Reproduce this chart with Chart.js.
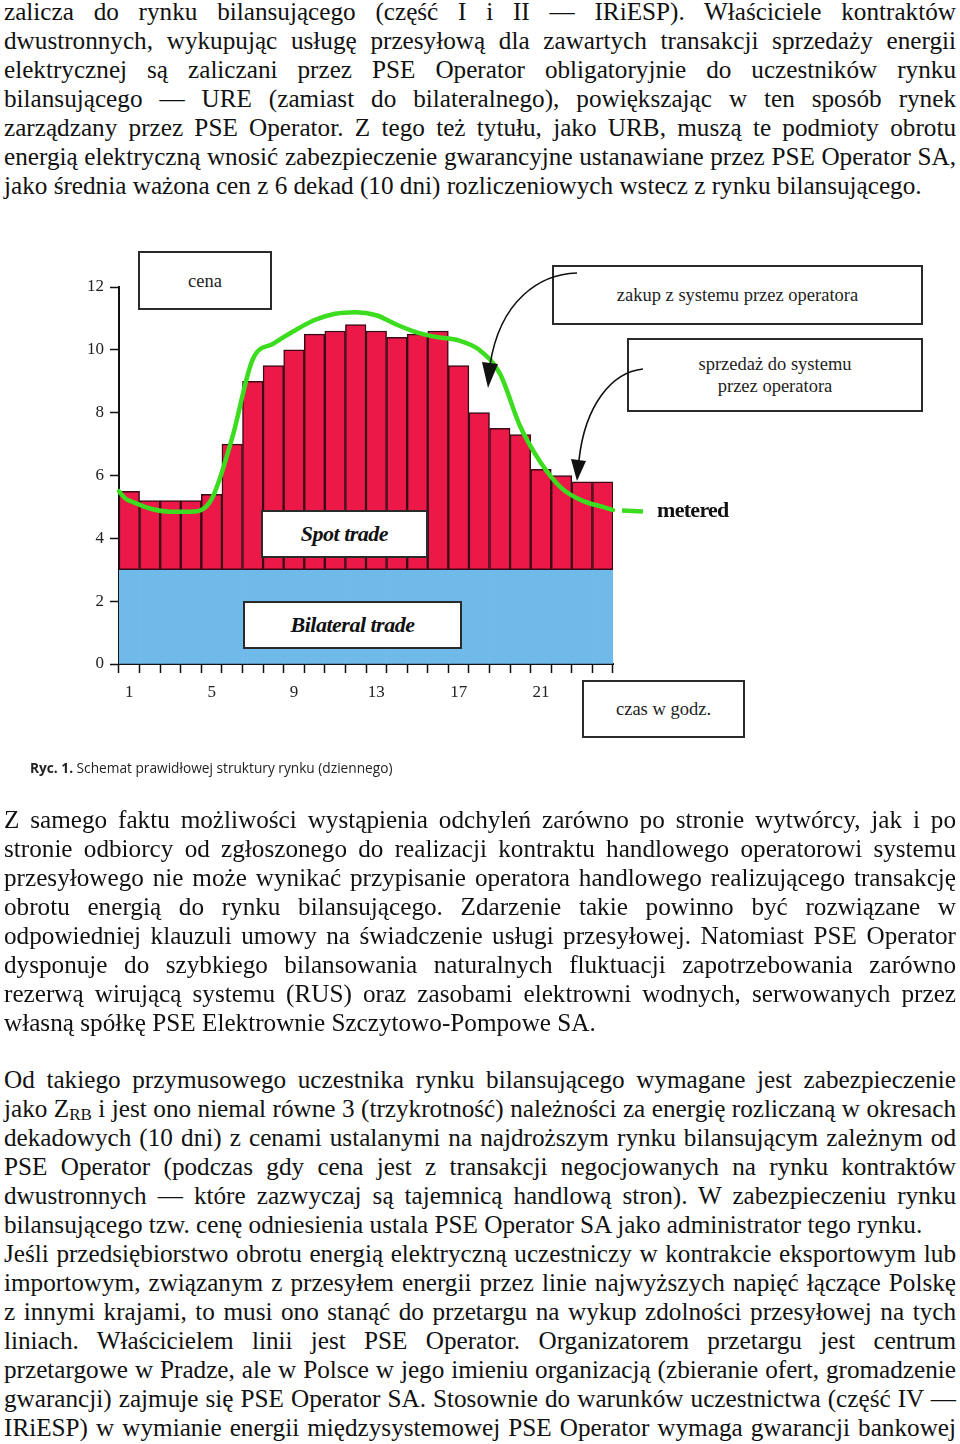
<!DOCTYPE html>
<html lang="pl">
<head>
<meta charset="utf-8">
<title>Schemat struktury rynku</title>
<script src="https://cdn.jsdelivr.net/npm/chart.js@4.4.1/dist/chart.umd.min.js"></script>
<style>
  body { margin: 0; background: #fff; }
  #page { position: relative; width: 960px; height: 1444px; overflow: hidden;
          font-family: "Liberation Serif", "Times New Roman", serif; color: #111; }
  .para { position: absolute; left: 4px; width: 952px; font-size: 25.2px; line-height: 29px; }
  .para div { height: 29px; text-align: justify; text-align-last: justify; }
  .para div.last { text-align-last: left; }
  .para sub { font-size: 17px; vertical-align: -3px; line-height: 0; }
  #chart { position: absolute; left: 0; top: 201px; }
  .box { position: absolute; box-sizing: border-box; border: 2px solid #2a2a2a; background: #fff;
         display: flex; align-items: center; justify-content: center; text-align: center;
         font-size: 18.5px; line-height: 22px; color: #222; z-index: 2; }
  .trade { font-weight: bold; font-style: italic; font-size: 22px; letter-spacing: -0.5px; color: #111; }
  #metered { position: absolute; left: 657px; top: 497px; font-weight: bold; font-size: 22px;
             letter-spacing: -0.7px; color: #111; z-index: 2; }
  #caption { position: absolute; left: 30px; top: 758px; font-family: "Open Sans", sans-serif;
             font-size: 13.7px; color: #222; }
  #arrows { position: absolute; left: 0; top: 0; z-index: 3; }
</style>
</head>
<body>
<div id="page">

  <div class="para" style="top:-3px">
    <div>zalicza do rynku bilansującego (część I i II — IRiESP). Właściciele kontraktów</div>
    <div>dwustronnych, wykupując usługę przesyłową dla zawartych transakcji sprzedaży energii</div>
    <div>elektrycznej są zaliczani przez PSE Operator obligatoryjnie do uczestników rynku</div>
    <div>bilansującego — URE (zamiast do bilateralnego), powiększając w ten sposób rynek</div>
    <div>zarządzany przez PSE Operator. Z tego też tytułu, jako URB, muszą te podmioty obrotu</div>
    <div>energią elektryczną wnosić zabezpieczenie gwarancyjne ustanawiane przez PSE Operator SA,</div>
    <div class="last">jako średnia ważona cen z 6 dekad (10 dni) rozliczeniowych wstecz z rynku bilansującego.</div>
  </div>

  <canvas id="chart" width="960" height="605"></canvas>

  <div class="box" style="left:138px; top:251px; width:134px; height:59px">cena</div>
  <div class="box" style="left:552px; top:265px; width:371px; height:60px">zakup z systemu przez operatora</div>
  <div class="box" style="left:627px; top:338px; width:296px; height:74px">sprzedaż do systemu<br>przez operatora</div>
  <div class="box trade" style="left:261px; top:510px; width:167px; height:48px">Spot trade</div>
  <div class="box trade" style="left:243px; top:601px; width:219px; height:48px">Bilateral trade</div>
  <div class="box" style="left:582px; top:680px; width:163px; height:58px">czas w godz.</div>
  <div id="metered">metered</div>

  <svg id="arrows" width="960" height="800">
    <path d="M577,273 C540,274 500,300 490,365" fill="none" stroke="#111" stroke-width="1.6"/>
    <polygon points="482,362 498,364 488,388" fill="#111"/>
    <path d="M643,369 C612,372 585,405 579,460" fill="none" stroke="#111" stroke-width="1.6"/>
    <polygon points="571,459 586,461 577,481" fill="#111"/>
  </svg>

  <div id="caption"><b>Ryc. 1.</b> Schemat prawidłowej struktury rynku (dziennego)</div>

  <div class="para" style="top:805px">
    <div>Z samego faktu możliwości wystąpienia odchyleń zarówno po stronie wytwórcy, jak i po</div>
    <div>stronie odbiorcy od zgłoszonego do realizacji kontraktu handlowego operatorowi systemu</div>
    <div>przesyłowego nie może wynikać przypisanie operatora handlowego realizującego transakcję</div>
    <div>obrotu energią do rynku bilansującego. Zdarzenie takie powinno być rozwiązane w</div>
    <div>odpowiedniej klauzuli umowy na świadczenie usługi przesyłowej. Natomiast PSE Operator</div>
    <div>dysponuje do szybkiego bilansowania naturalnych fluktuacji zapotrzebowania zarówno</div>
    <div>rezerwą wirującą systemu (RUS) oraz zasobami elektrowni wodnych, serwowanych przez</div>
    <div class="last">własną spółkę PSE Elektrownie Szczytowo-Pompowe SA.</div>
  </div>

  <div class="para" style="top:1065px">
    <div>Od takiego przymusowego uczestnika rynku bilansującego wymagane jest zabezpieczenie</div>
    <div>jako Z<sub>RB</sub> i jest ono niemal równe 3 (trzykrotność) należności za energię rozliczaną w okresach</div>
    <div>dekadowych (10 dni) z cenami ustalanymi na najdroższym rynku bilansującym zależnym od</div>
    <div>PSE Operator (podczas gdy cena jest z transakcji negocjowanych na rynku kontraktów</div>
    <div>dwustronnych — które zazwyczaj są tajemnicą handlową stron). W zabezpieczeniu rynku</div>
    <div class="last">bilansującego tzw. cenę odniesienia ustala PSE Operator SA jako administrator tego rynku.</div>
    <div>Jeśli przedsiębiorstwo obrotu energią elektryczną uczestniczy w kontrakcie eksportowym lub</div>
    <div>importowym, związanym z przesyłem energii przez linie najwyższych napięć łączące Polskę</div>
    <div>z innymi krajami, to musi ono stanąć do przetargu na wykup zdolności przesyłowej na tych</div>
    <div>liniach. Właścicielem linii jest PSE Operator. Organizatorem przetargu jest centrum</div>
    <div>przetargowe w Pradze, ale w Polsce w jego imieniu organizacją (zbieranie ofert, gromadzenie</div>
    <div>gwarancji) zajmuje się PSE Operator SA. Stosownie do warunków uczestnictwa (część IV —</div>
    <div>IRiESP) w wymianie energii międzysystemowej PSE Operator wymaga gwarancji bankowej</div>
  </div>
</div>

<script>
// hours of the day
const hours = [1, 2, 3, 4, 5, 6, 7, 8, 9, 10, 11, 12, 13, 14, 15, 16, 17, 18, 19, 20, 21, 22, 23, 24];
// total load; spot trade is the part above the bilateral contracts
const total = [5.5, 5.2, 5.2, 5.2, 5.4, 7.0, 9.0, 9.5, 10.0, 10.5, 10.6, 10.8,
               10.6, 10.4, 10.5, 10.6, 9.5, 8.0, 7.5, 7.3, 6.2, 6.0, 5.8, 5.8];
const bilateral = [3, 3, 3, 3, 3, 3, 3, 3, 3, 3, 3, 3, 3, 3, 3, 3, 3, 3, 3, 3, 3, 3, 3, 3];
const metered = [5.2, 4.95, 4.85, 4.85, 5.25, 7.2, 9.7, 10.2, 10.6, 10.95, 11.15, 11.2,
                 11.1, 10.8, 10.55, 10.4, 10.3, 10.0, 9.25, 7.55, 6.4, 5.6, 5.2, 5.0];
// metered curve at the left and right edge of the day
const meteredStart = 5.5;
const meteredEnd = 4.9;
const yTicks = [0, 2, 4, 6, 8, 10, 12];

const RED = "#ec1848";
const BLUE = "#70baea";
const GREEN = "#3cdc1e";
const serif = "'Liberation Serif', 'Times New Roman', serif";

// spot bars float from the bilateral level up to the total
const spot = total.map((t, i) => [bilateral[i], t]);

// draws the ends of the metered curve (edge pieces + dashed tail)
const meteredEnds = {
  id: "meteredEnds",
  afterDatasetsDraw(chart) {
    const pts = chart.getDatasetMeta(0).data;
    const y = chart.scales.y;
    const ctx = chart.ctx;
    const half = (pts[1].x - pts[0].x) / 2;
    const last = pts[pts.length - 1];
    ctx.save();
    ctx.strokeStyle = GREEN;
    ctx.lineWidth = 4.5;
    ctx.lineCap = "round";
    ctx.beginPath();
    ctx.moveTo(pts[0].x - half, y.getPixelForValue(meteredStart));
    ctx.quadraticCurveTo(pts[0].x - half * 0.4, pts[0].y - 1, pts[0].x, pts[0].y);
    ctx.stroke();
    const endX = last.x + half;
    const endY = y.getPixelForValue(meteredEnd);
    ctx.beginPath();
    ctx.moveTo(last.x, last.y);
    ctx.lineTo(endX, endY);
    ctx.stroke();
    ctx.lineCap = "butt";
    ctx.beginPath();
    ctx.moveTo(endX + 9, endY + 0.5);
    ctx.lineTo(endX + 30, endY + 1.5);
    ctx.stroke();
    ctx.restore();
  }
};

new Chart(document.getElementById("chart"), {
  data: {
    labels: hours,
    datasets: [
      {
        type: "line",
        label: "metered",
        data: metered,
        borderColor: GREEN,
        borderWidth: 4.5,
        pointRadius: 0,
        cubicInterpolationMode: "monotone",
        order: 1
      },
      {
        type: "bar",
        label: "Spot trade",
        data: spot,
        backgroundColor: RED,
        borderColor: "#3a0a16",
        borderWidth: 1.5,
        borderSkipped: false,
        grouped: false,
        barPercentage: 1,
        categoryPercentage: 1,
        order: 2
      },
      {
        type: "bar",
        label: "Bilateral trade",
        data: bilateral,
        backgroundColor: BLUE,
        borderWidth: 0,
        grouped: false,
        barPercentage: 1,
        categoryPercentage: 1,
        order: 3
      }
    ]
  },
  options: {
    responsive: false,
    animation: false,
    layout: { padding: { top: 86, left: 0, right: 347, bottom: 0 } },
    plugins: {
      legend: { display: false },
      tooltip: { enabled: false }
    },
    scales: {
      x: {
        grid: { offset: true, drawOnChartArea: false, tickLength: 9, tickColor: "#111", tickWidth: 1.5 },
        border: { color: "#111", width: 2 },
        ticks: {
          autoSkip: false,
          maxRotation: 0,
          padding: 9,
          color: "#222",
          font: { family: serif, size: 17 },
          callback: (v, i) => (i % 4 === 0 ? hours[i] : "")
        },
        afterFit(s) { s.height = 142; s.paddingLeft = 0; s.paddingRight = 0; }
      },
      y: {
        min: 0,
        max: 12,
        afterBuildTicks(s) { s.ticks = yTicks.map(v => ({ value: v })); },
        grid: { drawOnChartArea: false, tickLength: 9, tickColor: "#111", tickWidth: 1.5 },
        border: { color: "#111", width: 2 },
        ticks: { padding: 6, color: "#222", font: { family: serif, size: 17 } },
        afterFit(s) { s.width = 119; s.paddingTop = 0; s.paddingBottom = 0; }
      }
    }
  },
  plugins: [meteredEnds]
});
</script>
</body>
</html>
